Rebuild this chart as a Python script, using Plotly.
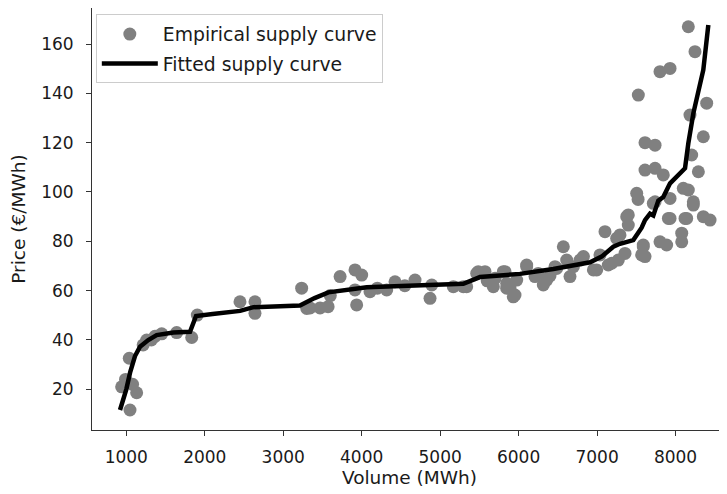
import plotly.graph_objects as go

# Empirical supply curve (scatter)
emp_volume = [941, 990, 1080, 1047, 1132, 1038, 1215, 1260, 1320, 1366, 1451, 1642, 1834, 1905,
              2449, 2640, 2640, 3235, 3300, 3342, 3470, 3572, 3600, 3725, 3915, 4000, 3936, 4106, 3915,
              4200, 4319, 4425, 4550, 4680, 4871, 4893, 5168, 5295, 5338, 5466, 5486, 5572, 5600, 5678,
              5700, 5805, 5827, 5848, 5848, 5890, 5932, 5954, 5976, 6103, 6103, 6209, 6250, 6315, 6358,
              6400, 6464, 6485, 6570, 6613, 6655, 6698, 6783, 6826, 6953, 6995, 7037, 7101, 7143, 7187,
              7250, 7271, 7292, 7356, 7378, 7398, 7398, 7505, 7523, 7526, 7568, 7589, 7589, 7611, 7611,
              7611, 7717, 7739, 7739, 7739, 7802, 7802, 7844, 7887, 7909, 7930, 7930, 7930, 8079, 8079,
              8099, 8121, 8142, 8163, 8163, 8184, 8206, 8227, 8227, 8248, 8291, 8354, 8354, 8397, 8440]
emp_price = [21, 24, 22, 11.6, 18.6, 32.6, 38, 40, 40, 41.5, 42.5, 43, 41, 50.1,
             55.5, 55.5, 50.8, 61, 52.8, 53, 53, 53.5, 58, 65.7, 68.4, 66.3, 54.2, 59.6, 60.3,
             61, 60.3, 63.6, 62, 64.3, 56.9, 62.3, 61.6, 61.6, 61.6, 67, 67.7, 67.7, 64, 61.6,
             65, 67.7, 67.7, 63, 61, 61, 57.5, 58.2, 64.3, 70.4, 69.7, 65.7, 67, 62.3, 64.3,
             66, 69.7, 69, 77.8, 72.4, 65.7, 69.7, 72.4, 73.8, 68.4, 68.4, 74.5, 83.9, 70.4, 71.1,
             81.2, 72.4, 82.6, 75.1, 90, 86.6, 90.7, 99.5, 97, 139.3, 74.5, 78.5, 77.8, 73.8, 120,
             108.9, 95.4, 119, 109.6, 96, 79.8, 148.8, 106.9, 78.5, 89.3, 89.3, 97.4, 150.1, 83.3, 79.8,
             101.5, 89.3, 89.3, 100.8, 167, 131.2, 115, 96, 94.7, 156.9, 108.2, 122.4, 90, 136, 88.6]

# Fitted supply curve (line)
fit_volume = [920, 1000, 1050, 1111, 1175, 1280, 1387, 1600, 1812, 1850, 1889, 2100, 2451, 2621,
              3000, 3213, 3400, 3575, 4064, 4743, 5295, 5508, 6018, 6443, 6911, 7058, 7207, 7292,
              7462, 7568, 7611, 7675, 7717, 7781, 7844, 7930, 8121, 8163, 8227, 8354, 8418]
fit_price = [11.6, 20, 27, 33.5, 37.3, 40, 42, 43, 43.3, 46, 49.7, 50.5, 51.8, 53.3,
             53.8, 54, 57, 59.3, 61.4, 62, 62.8, 65.5, 66.8, 68.8, 71.5, 73.8, 77.8, 79,
             80.5, 85.5, 88.6, 91.2, 90.5, 96.5, 98, 103.5, 109.6, 119.7, 131.9, 149.5, 167.7]

x_ticks = [1000, 2000, 3000, 4000, 5000, 6000, 7000, 8000]
y_ticks = [20, 40, 60, 80, 100, 120, 140, 160]

FONT = "DejaVu Sans"
TXT = "#1a1a1a"

fig = go.Figure()
fig.add_trace(go.Scatter(
    x=emp_volume, y=emp_price, mode="markers", name="Empirical supply curve",
    marker=dict(color="#808080", size=13, line=dict(width=0)),
    legendgroup="a"))
fig.add_trace(go.Scatter(
    x=fit_volume, y=fit_price, mode="lines", name="Fitted supply curve",
    line=dict(color="black", width=4.5),
    legendgroup="b"))

# The page body has an 8px margin, so the figure is sized to fill the rest of the window.
fig.update_layout(
    width=719, height=486,
    margin=dict(l=84, r=0, t=0, b=64, autoexpand=False),
    paper_bgcolor="white", plot_bgcolor="white",
    font=dict(family=FONT, color=TXT),
    showlegend=True,
    legend=dict(
        x=0.006, y=0.985, xanchor="left", yanchor="top",
        bgcolor="rgba(255,255,255,0.85)", bordercolor="#cccccc", borderwidth=1,
        font=dict(family=FONT, size=18.8, color=TXT),
        tracegroupgap=2, itemwidth=56,
    ),
    xaxis=dict(
        range=[563, 8656], tickvals=x_ticks, ticktext=[str(v) for v in x_ticks],
        showgrid=False, zeroline=False, automargin=False,
        showline=True, linecolor="#333333", linewidth=1, mirror=True,
        ticks="outside", ticklen=5, tickwidth=1, tickcolor="#333333",
        tickfont=dict(family=FONT, size=17, color=TXT),
        ticklabelstandoff=7,
        title=dict(text="Volume (MWh)", font=dict(family=FONT, size=18.5, color=TXT), standoff=4),
    ),
    yaxis=dict(
        range=[3.5, 174.6], tickvals=y_ticks, ticktext=[str(v) for v in y_ticks],
        showgrid=False, zeroline=False, automargin=False,
        showline=True, linecolor="#333333", linewidth=1, mirror=False,
        ticks="outside", ticklen=5, tickwidth=1, tickcolor="#333333",
        tickfont=dict(family=FONT, size=17, color=TXT),
        ticklabelstandoff=9,
        title=dict(text="Price (€/MWh)", font=dict(family=FONT, size=18.5, color=TXT), standoff=10),
    ),
)

fig.write_html("out.html")
